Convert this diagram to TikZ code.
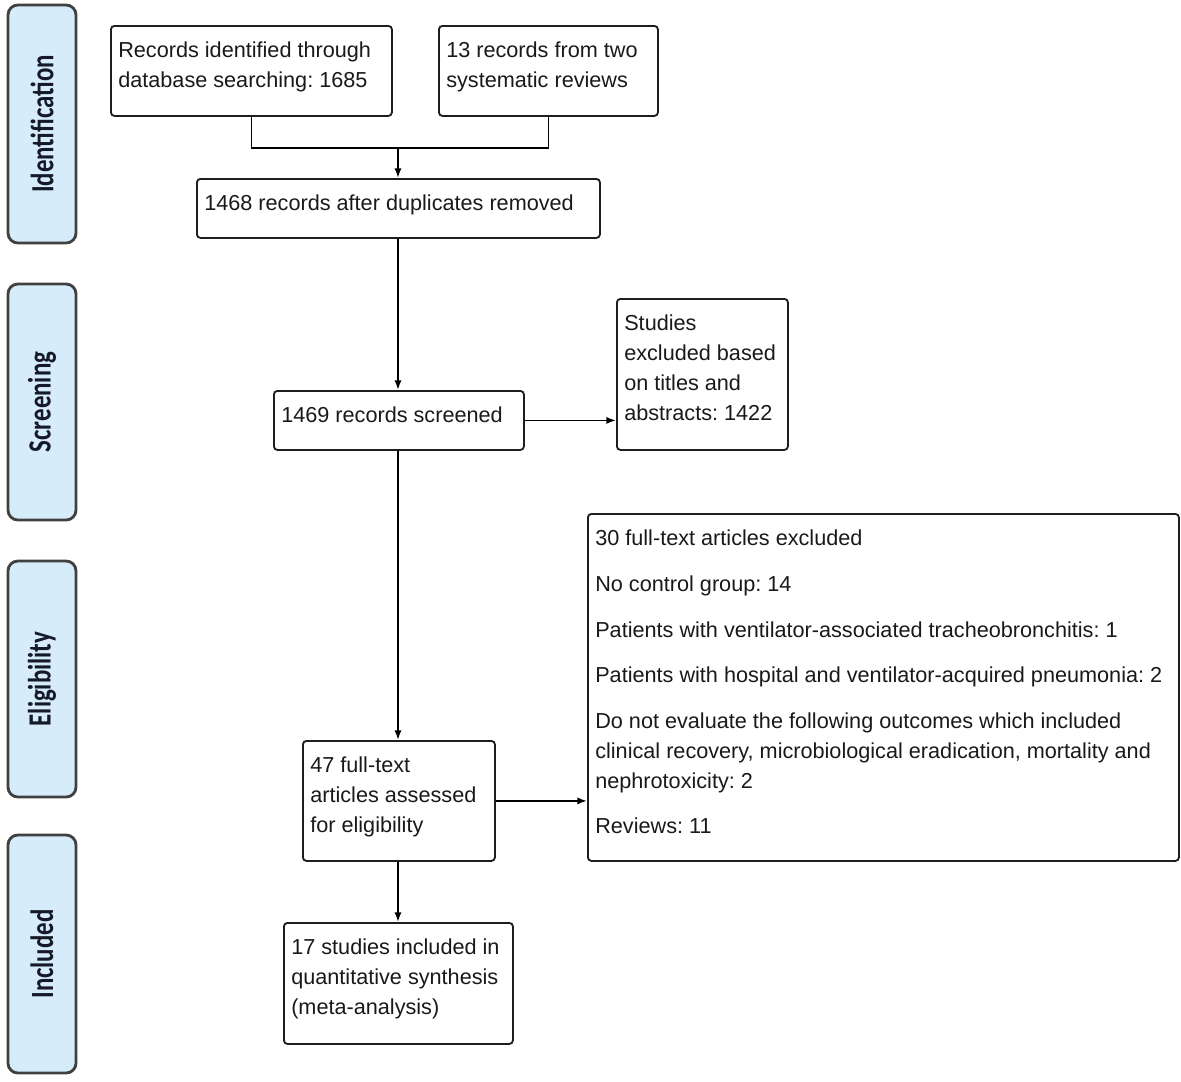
\documentclass[tikz,border=0pt]{standalone}
\usepackage{fontspec}
\setmainfont{Liberation Sans}
\newfontfamily\sidefont{Carlito}
\usepackage{graphicx}
\usepackage{xcolor}
\usetikzlibrary{arrows.meta,positioning,calc}
\frenchspacing

\definecolor{sidefill}{RGB}{214,236,250}
\definecolor{sideline}{RGB}{64,64,64}
\definecolor{boxline}{RGB}{30,30,30}
\definecolor{sidetext}{RGB}{22,26,40}

% one pixel of the reference
\def\pxu{0.025cm}

\tikzset{
  box/.style={draw=boxline, line width=1.3pt, rounded corners=2.5pt, anchor=north west, inner sep=0pt},
  txt/.style={anchor=north west, align=left, inner xsep=8*\pxu, inner ysep=17*\pxu,
    font=\fontsize{15.4}{21.3}\selectfont, text=black!90},
  side/.style={draw=sideline, fill=sidefill, line width=2pt, rounded corners=7pt, rotate=90,
    inner sep=0pt, text=sidetext, font=\sidefont\bfseries\fontsize{17.7}{20}\selectfont},
  arr/.style={line width=1.3pt, -{Latex[length=2.4mm,width=1.8mm]}},
  conn/.style={line width=1.3pt},
}

\begin{document}
\begin{tikzpicture}[x=\pxu, y=-\pxu]
    \useasboundingbox (0,0) rectangle (1181,1081);

    % Stage labels
    \node[side, minimum width=238*\pxu, minimum height=68*\pxu] (ident) at (42,124) {\scalebox{1}[1.3]{Identification}};
    \node[side, minimum width=236*\pxu, minimum height=68*\pxu] (screening) at (42,402) {\scalebox{1}[1.3]{Screening}};
    \node[side, minimum width=236*\pxu, minimum height=68*\pxu] (elig) at (42,679) {\scalebox{1}[1.3]{Eligibility}};
    \node[side, minimum width=238*\pxu, minimum height=68*\pxu] (included) at (42,954) {\scalebox{1}[1.3]{Included}};

    % Boxes
    \node[box, minimum width=281*\pxu, minimum height=90*\pxu,
      label={[txt]north west:{Records identified through\\database searching: 1685}}] (recs) at (110,25) {};
    \node[box, minimum width=219*\pxu, minimum height=90*\pxu,
      label={[txt]north west:{13 records from two\\systematic reviews}}] (other) at (438,25) {};
    \node[box, minimum width=403*\pxu, minimum height=59*\pxu,
      label={[txt]north west:{1468 records after duplicates removed}}] (dedup) at (196,178) {};
    \node[box, minimum width=250*\pxu, minimum height=59*\pxu,
      label={[txt]north west:{1469 records screened}}] (screen) at (273,390) {};
    \node[box, minimum width=171*\pxu, minimum height=151*\pxu,
      label={[txt]north west:{Studies\\excluded based\\on titles and\\abstracts: 1422}}] (excl1) at (616,298) {};
    \node[box, minimum width=192*\pxu, minimum height=120*\pxu,
      label={[txt]north west:{47 full-text\\articles assessed\\for eligibility}}] (full) at (302,740) {};
    \node[box, minimum width=591*\pxu, minimum height=347*\pxu,
      label={[txt]north west:{30 full-text articles excluded\\[0.39cm]
        No control group: 14\\[0.39cm]
        Patients with ventilator-associated tracheobronchitis: 1\\[0.39cm]
        Patients with hospital and ventilator-acquired pneumonia: 2\\[0.39cm]
        Do not evaluate the following outcomes which included\\
        clinical recovery, microbiological eradication, mortality and\\
        nephrotoxicity: 2\\[0.39cm]
        Reviews: 11}}] (excl2) at (587,513) {};
    \node[box, minimum width=229*\pxu, minimum height=121*\pxu,
      label={[txt]north west:{17 studies included in\\quantitative synthesis\\(meta-analysis)}}] (incl) at (283,922) {};

    % Connectors
    \coordinate (join) at (398,148);
    \draw[conn] (recs.south) |- (join) -| (other.south);
    \draw[arr] (join) -- (join |- dedup.north);
    \draw[arr] (dedup.south -| join) -- (screen.north -| join);
    \draw[arr] (screen.east) -- (screen.east -| excl1.west);
    \draw[arr] (screen.south -| join) -- (full.north -| join);
    \draw[arr] (full.east) -- (full.east -| excl2.west);
    \draw[arr] (full.south -| join) -- (incl.north -| join);
\end{tikzpicture}
\end{document}
